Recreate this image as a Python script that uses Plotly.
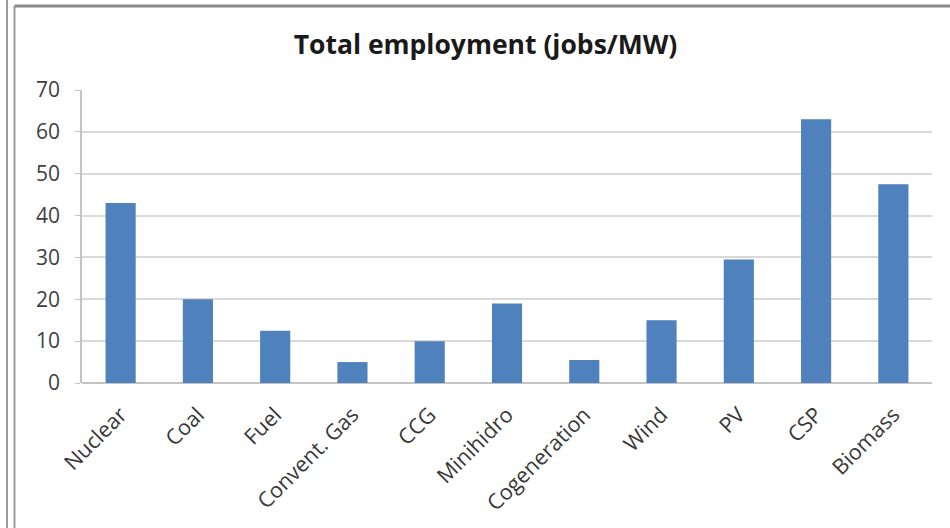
import plotly.graph_objects as go

categories = ["Nuclear", "Coal", "Fuel", "Convent. Gas", "CCG", "Minihidro",
              "Cogeneration", "Wind", "PV", "CSP", "Biomass"]
jobs_per_mw = [43, 20, 12.5, 5, 10, 19, 5.5, 15, 29.5, 63, 47.5]
y_ticks = [0, 10, 20, 30, 40, 50, 60, 70]

W, H = 950, 528
ML, MR, MT, MB = 82, 18, 90, 145
PW, PH = W - ML - MR, H - MT - MB


def px(x):
    return (x - ML) / PW


def py(y):
    return (H - MB - y) / PH


fig = go.Figure(go.Bar(
    x=categories, y=jobs_per_mw,
    marker=dict(color="#4f81bd", line=dict(width=0)),
    hoverinfo="x+y",
))

border = dict(color="#9a9a9a", width=2)
fig.update_layout(
    width=W, height=H,
    margin=dict(l=ML, r=MR, t=MT, b=MB, pad=0),
    paper_bgcolor="white", plot_bgcolor="white",
    bargap=0.61,
    showlegend=False,
    font=dict(family="Open Sans, Noto Sans, sans-serif", color="#404040"),
    title=dict(text="<b>Total employment (jobs/MW)</b>", xref="paper",
               x=px(485.5), xanchor="center",
               y=1 - 45 / H, yanchor="middle",
               font=dict(size=26.5, color="#1a1a1a")),
    xaxis=dict(showgrid=False, showline=False, ticks="", tickangle=-45,
               tickfont=dict(size=21.5, color="#383838"), zeroline=False,
               ticklabelstandoff=14),
    yaxis=dict(range=[0, 70], tickvals=y_ticks, showgrid=True,
               gridcolor="#d9d9d9", gridwidth=2, showline=True,
               linecolor="#c4c4c4", linewidth=1.5, ticks="outside",
               ticklen=5, tickcolor="#c4c4c4", zeroline=True,
               zerolinecolor="#c4c4c4", zerolinewidth=2,
               tickfont=dict(size=21, color="#404040"), ticklabelstandoff=11),
    shapes=[
        dict(type="line", xref="paper", yref="paper", x0=px(7), x1=px(7),
             y0=py(0), y1=py(H), line=border),
        dict(type="line", xref="paper", yref="paper", x0=px(14.5), x1=px(14.5),
             y0=py(6), y1=py(H), line=border),
        dict(type="line", xref="paper", yref="paper", x0=px(14.5), x1=px(W),
             y0=py(6), y1=py(6), line=dict(color="#8a8a8a", width=3)),
    ],
)

fig.write_html("out.html")
